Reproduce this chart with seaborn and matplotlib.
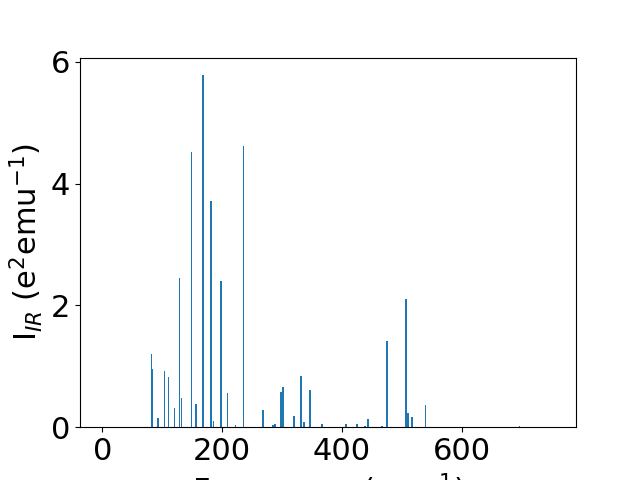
import matplotlib
matplotlib.use("Agg")
import matplotlib.pyplot as plt
import seaborn as sns

# IR frequencies (cm^-1) and intensities (e^2 emu^-1)
freqs = [82.4, 84.1, 91.9, 92.8, 103.6, 104.4, 110.8, 120.9, 129.2, 132.6, 149.3,
         155.4, 156.3, 167.1, 168.2, 180.4, 181.3, 185.5, 198.3, 209.4, 222.8, 236.1,
         267.9, 284.6, 287.9, 297.9, 301.3, 319.7, 331.4, 336.4, 346.4, 366.5, 406.6,
         423.9, 424.8, 438.3, 443.3, 466.7, 475.1, 505.7, 506.6, 510.1, 516.8, 538.5,
         695.6]
intens = [1.20, 0.95, 0.15, 0.15, 0.92, 0.92, 0.82, 0.31, 2.45, 0.48, 4.52,
          0.38, 0.38, 5.78, 5.78, 3.71, 3.71, 0.10, 2.40, 0.56, 0.03, 4.62,
          0.28, 0.03, 0.06, 0.58, 0.66, 0.18, 0.84, 0.08, 0.61, 0.06, 0.06,
          0.06, 0.06, 0.02, 0.13, 0.02, 1.41, 2.10, 2.10, 0.23, 0.16, 0.36,
          0.02]

plt.rcParams["font.size"] = 22
color = sns.color_palette()[0]

fig, ax = plt.subplots(figsize=(6.4, 4.8), dpi=100)
ax.bar(freqs, intens, width=2.2, color=color)
ax.set_xlim(-37, 790)
ax.set_ylim(0, 6.07)
ax.set_xticks([0, 200, 400, 600])
ax.set_yticks([0, 2, 4, 6])
ax.set_xlabel("Frequency (cm$^{-1}$)")
ax.set_ylabel("I$_{IR}$ (e$^2$emu$^{-1}$)")
fig.savefig("out.png", dpi=100)
